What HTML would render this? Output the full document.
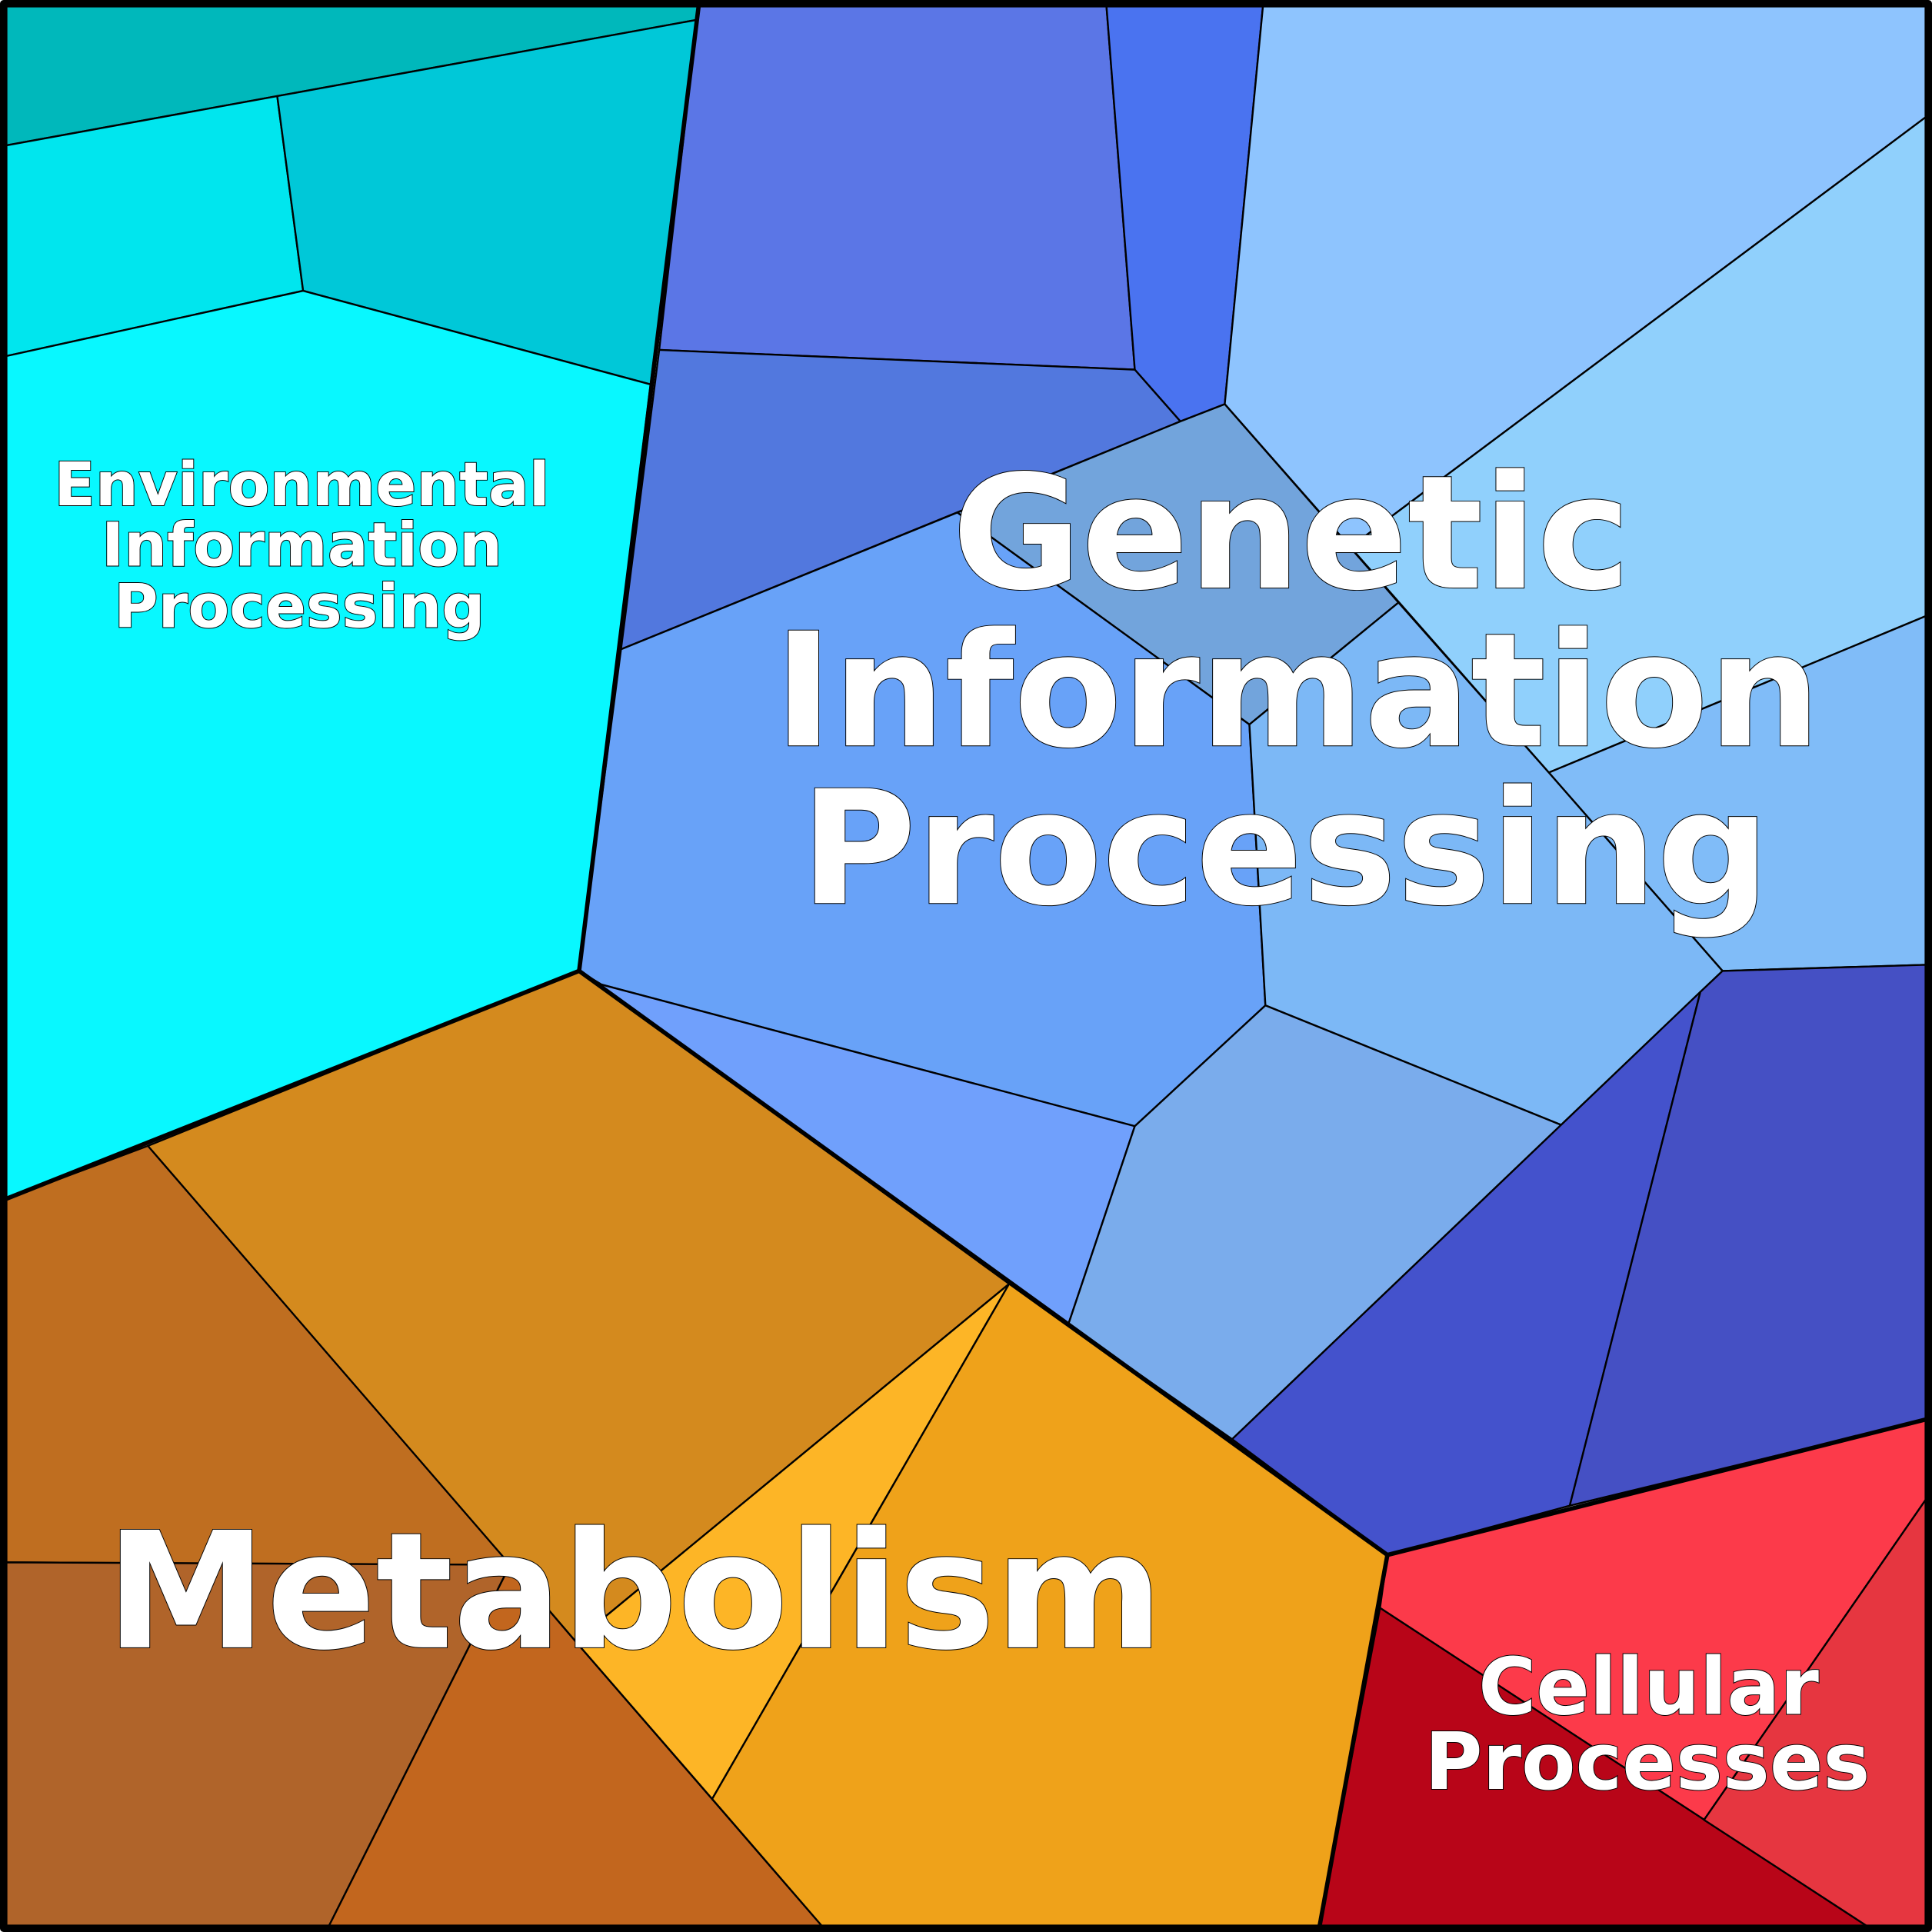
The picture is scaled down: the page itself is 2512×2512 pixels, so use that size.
<!DOCTYPE html>
<html><head><meta charset="utf-8"><style>
html,body{margin:0;padding:0;background:#fff}
svg{display:block}
text{font-family:"DejaVu Sans","Liberation Sans",sans-serif;font-weight:bold;fill:#fff;stroke:#000;stroke-width:1.2;paint-order:stroke;text-anchor:middle}
</style></head><body>
<svg width="2512" height="2512" viewBox="0 0 1568 1568" xmlns="http://www.w3.org/2000/svg">
<g stroke="#000" stroke-width="1.5" stroke-linejoin="round">
<polygon fill="#00b8bb" points="5,5 567,5 566,16 225,78 5,118"/>
<polygon fill="#00e6ee" points="5,118 225,78 246,236 5,289"/>
<polygon fill="#00c8d8" points="225,78 566,16 528,312 246,236"/>
<polygon fill="#08f8ff" points="5,289 246,236 528,312 470,788 5,973"/>
<polygon fill="#5b76e6" points="567,5 898,5 921,300 535,284"/>
<polygon fill="#4a73f0" points="898,5 1025,5 994,328 958,342 921,300"/>
<polygon fill="#5278de" points="535,284 921,300 958,342 504,527"/>
<polygon fill="#8ec4fe" points="1025,5 1563,5 1563,95 1096,444 994,328"/>
<polygon fill="#90d0fc" points="1563,95 1563,500 1257,627 1096,444"/>
<polygon fill="#80bcf8" points="1257,627 1563,500 1563,783 1398,788"/>
<polygon fill="#72a4dc" points="777,416 958,342 994,328 1135,489 1014,588"/>
<polygon fill="#68a2f8" points="504,527 777,416 1014,588 1027,816 921,914 488,799 470,788"/>
<polygon fill="#7cb8f6" points="1014,588 1135,489 1257,627 1398,788 1267,913 1027,816"/>
<polygon fill="#70a0fc" points="470,788 488,799 921,914 867,1075"/>
<polygon fill="#7aacec" points="921,914 1027,816 1267,913 1000,1168 867,1075"/>
<polygon fill="#4452cc" points="1000,1168 1380,805 1274,1222 1126,1262"/>
<polygon fill="#4550c4" points="1380,805 1398,788 1563,783 1563,1152 1274,1222"/>
<polygon fill="#d48a1e" points="120,930 470,788 819,1042 467,1332"/>
<polygon fill="#bf6e20" points="5,973 120,930 414,1270 5,1268"/>
<polygon fill="#b0642a" points="5,1268 414,1270 267,1563 5,1563"/>
<polygon fill="#c2661e" points="414,1270 467,1332 667,1563 267,1563"/>
<polygon fill="#fdb526" points="467,1332 819,1042 578,1460"/>
<polygon fill="#efa21a" points="819,1042 1126,1262 1071,1563 667,1563 578,1460"/>
<polygon fill="#fc3a4a" points="1126,1262 1563,1152 1563,1217 1383,1477 1120,1305"/>
<polygon fill="#b80518" points="1120,1305 1515,1563 1071,1563"/>
<polygon fill="#e63640" points="1563,1217 1563,1563 1515,1563 1383,1477"/>
</g>
<g fill="none" stroke="#000" stroke-width="3.5" stroke-linejoin="round">
<polyline points="567,5 470,788 5,973"/>
<polyline points="470,788 1126,1262 1563,1152"/>
<polyline points="1126,1262 1071,1563"/>
<rect x="3" y="3" width="1562" height="1562" stroke-width="6"/>
</g>
<text font-size="49" x="245" y="410">Environmental</text>
<text font-size="49" x="245" y="459">Information</text>
<text font-size="49" x="243" y="509">Processing</text>
<text font-size="128" x="1048" y="477">Genetic</text>
<text font-size="128" x="1053" y="605">Information</text>
<text font-size="128" x="1043" y="733">Processing</text>
<text font-size="131" x="515" y="1337">Metabolism</text>
<text font-size="64" x="1338" y="1391">Cellular</text>
<text font-size="64" x="1337" y="1452">Processes</text>
</svg>
</body></html>
